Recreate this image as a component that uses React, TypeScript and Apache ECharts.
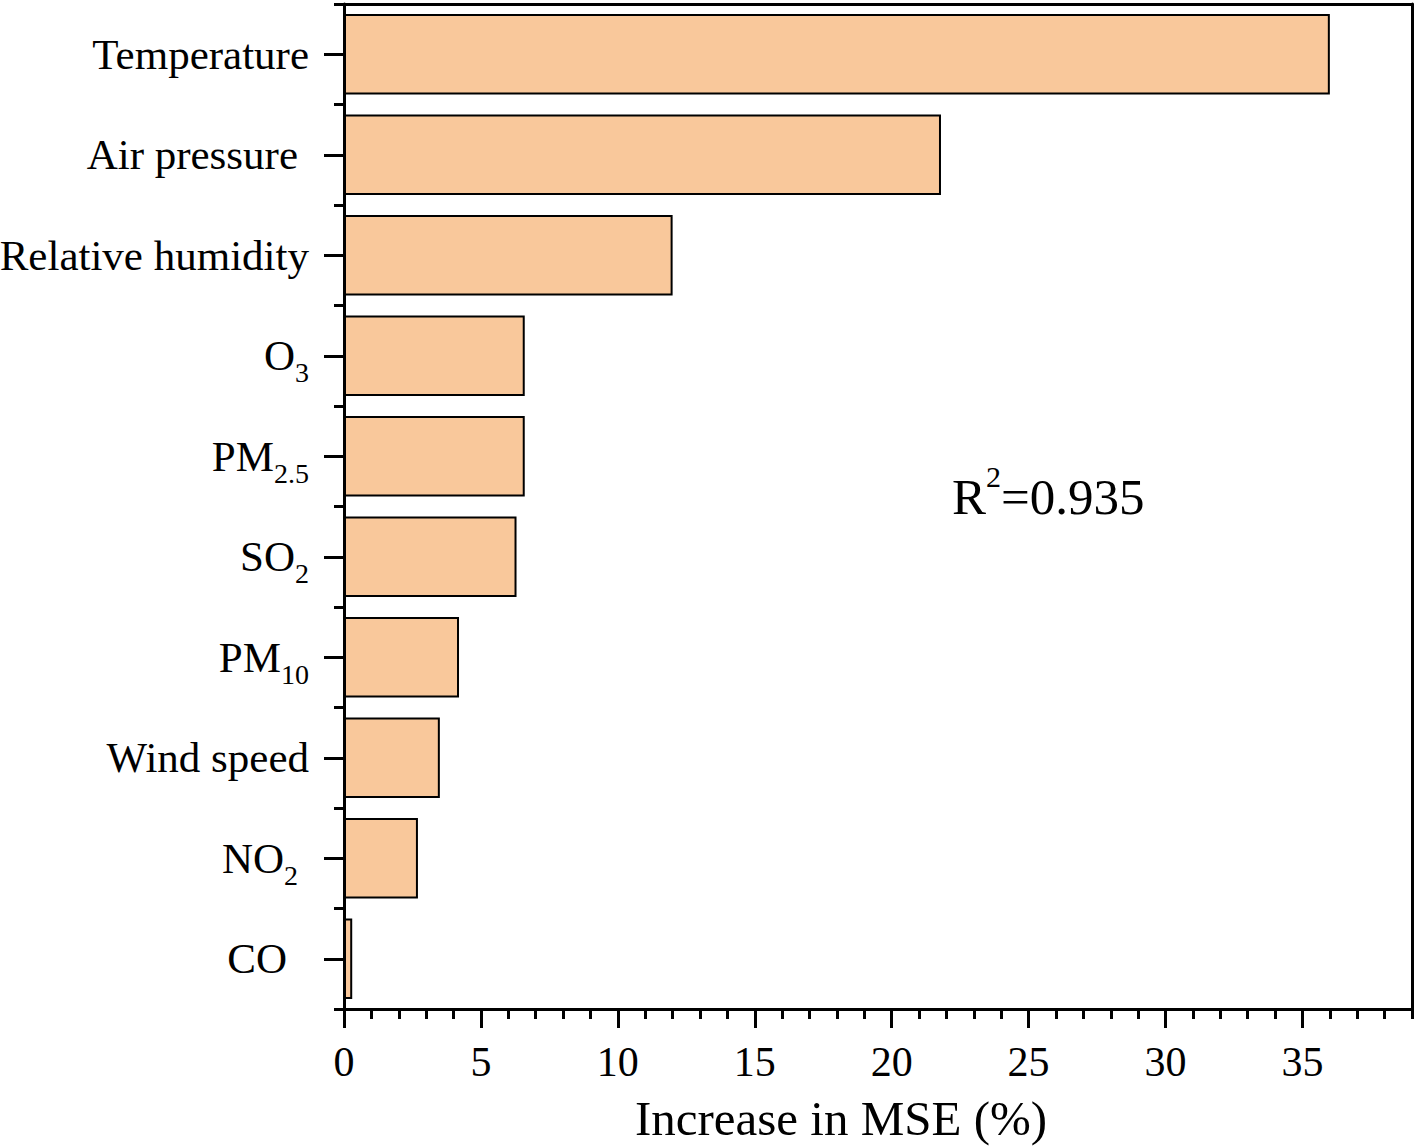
import React, { useEffect, useRef } from "react";
import * as echarts from "echarts";

const categories = [
  "Temperature",
  "Air pressure",
  "Relative humidity",
  "O3",
  "PM2.5",
  "SO2",
  "PM10",
  "Wind speed",
  "NO2",
  "CO",
];
const values = [36.0, 21.8, 12.0, 6.6, 6.6, 6.3, 4.2, 3.5, 2.7, 0.3];
const xTicks = [0, 5, 10, 15, 20, 25, 30, 35];
const xMin = 0;
const xMax = 39;
const xName = "Increase in MSE (%)";
const annotation = { main: "R", sup: "2", rest: "=0.935" };

const FONT = "'Liberation Serif', 'Times New Roman', serif";
const trailingPad: Record<string, string> = { "Air pressure": "1", NO2: "1", CO: "2" };

function fmtLabel(v: string): string {
  const suffix = trailingPad[v] || "";
  const m = v.match(/^([A-Z]+)(\d[\d.]*)$/);
  if (m) return `{m|${m[1]}}{s${suffix}|${m[2]}}`;
  return `{m${suffix}|${v}}`;
}

export default function App() {
  const ref = useRef<HTMLDivElement>(null);
  useEffect(() => {
    if (!ref.current) return;
    const chart = echarts.init(ref.current, null, { renderer: "svg" });
    const mainText = { fontSize: 43, lineHeight: 62, fontFamily: FONT, color: "#000" };
    const subText = { fontSize: 28, lineHeight: 30, verticalAlign: "bottom", fontFamily: FONT, color: "#000" };
    const option: any = {
      animation: false,
      backgroundColor: "#fff",
      grid: { left: 344, right: 5, top: 4, bottom: 139, containLabel: false, outerBoundsMode: "none" },
      xAxis: [
        {
          type: "value",
          position: "bottom",
          min: xMin,
          max: xMax,
          interval: 5,
          axisLine: { show: true, onZero: false, lineStyle: { color: "#000", width: 3 } },
          axisTick: { show: true, length: 19, customValues: xTicks, lineStyle: { color: "#000", width: 3 } },
          axisLabel: {
            customValues: xTicks,
            margin: 32,
            fontSize: 42,
            lineHeight: 42,
            fontFamily: FONT,
            color: "#000",
          },
          splitLine: { show: false },
          name: xName,
          nameLocation: "middle",
          nameGap: 84,
          nameTextStyle: {
            fontSize: 49,
            lineHeight: 50,
            fontFamily: FONT,
            color: "#000",
            padding: [0, 74, 0, 0],
          },
        },
        {
          type: "value",
          position: "top",
          min: xMin,
          max: xMax,
          axisLine: { show: true, onZero: false, lineStyle: { color: "#000", width: 3 } },
          axisTick: { show: false },
          axisLabel: { show: false },
          splitLine: { show: false },
        },
        {
          type: "value",
          position: "bottom",
          min: xMin,
          max: xMax,
          interval: 1,
          axisLine: { show: false, onZero: false },
          axisTick: { show: true, length: 10, lineStyle: { color: "#000", width: 3 } },
          axisLabel: { show: false },
          splitLine: { show: false },
        },
      ],
      yAxis: [
        {
          type: "category",
          data: categories,
          inverse: true,
          position: "left",
          axisLine: { show: true, onZero: false, lineStyle: { color: "#000", width: 3 } },
          axisTick: { show: true, alignWithLabel: true, interval: 0, length: 20, lineStyle: { color: "#000", width: 3 } },
          axisLabel: {
            interval: 0,
            margin: 35,
            formatter: (v: string) => fmtLabel(v),
            rich: {
              m: mainText,
              m1: { ...mainText, padding: [0, 11, 0, 0] },
              m2: { ...mainText, padding: [0, 22, 0, 0] },
              s: subText,
              s1: { ...subText, padding: [0, 11, 0, 0] },
            },
          },
          splitLine: { show: false },
        },
        {
          type: "category",
          data: categories,
          inverse: true,
          position: "left",
          axisLine: { show: false, onZero: false },
          axisTick: { show: true, alignWithLabel: false, interval: 0, length: 10, lineStyle: { color: "#000", width: 3 } },
          axisLabel: { show: false },
          splitLine: { show: false },
        },
        {
          type: "category",
          data: categories,
          inverse: true,
          position: "right",
          axisLine: { show: true, onZero: false, lineStyle: { color: "#000", width: 3 } },
          axisTick: { show: false },
          axisLabel: { show: false },
          splitLine: { show: false },
        },
      ],
      series: [
        {
          type: "bar",
          xAxisIndex: 0,
          yAxisIndex: 0,
          data: values,
          barCategoryGap: "20%",
          itemStyle: { color: "#F9C89B", borderColor: "#000", borderWidth: 2 },
          silent: true,
        },
      ],
      graphic: [
        {
          type: "text",
          x: 952,
          y: 497,
          style: {
            text: `{r|${annotation.main}}{u|${annotation.sup}}{r|${annotation.rest}}`,
            align: "left",
            verticalAlign: "middle",
            fill: "#000",
            rich: {
              r: { fontSize: 51, lineHeight: 72, fontFamily: FONT, fill: "#000" },
              u: { fontSize: 30, lineHeight: 33, verticalAlign: "top", fontFamily: FONT, fill: "#000" },
            },
          },
        },
      ],
    };
    chart.setOption(option);
    return () => chart.dispose();
  }, []);
  return (
    <div
      ref={ref}
      style={{ position: "fixed", left: 0, top: 0, width: 1417, height: 1148, background: "#fff" }}
    />
  );
}
